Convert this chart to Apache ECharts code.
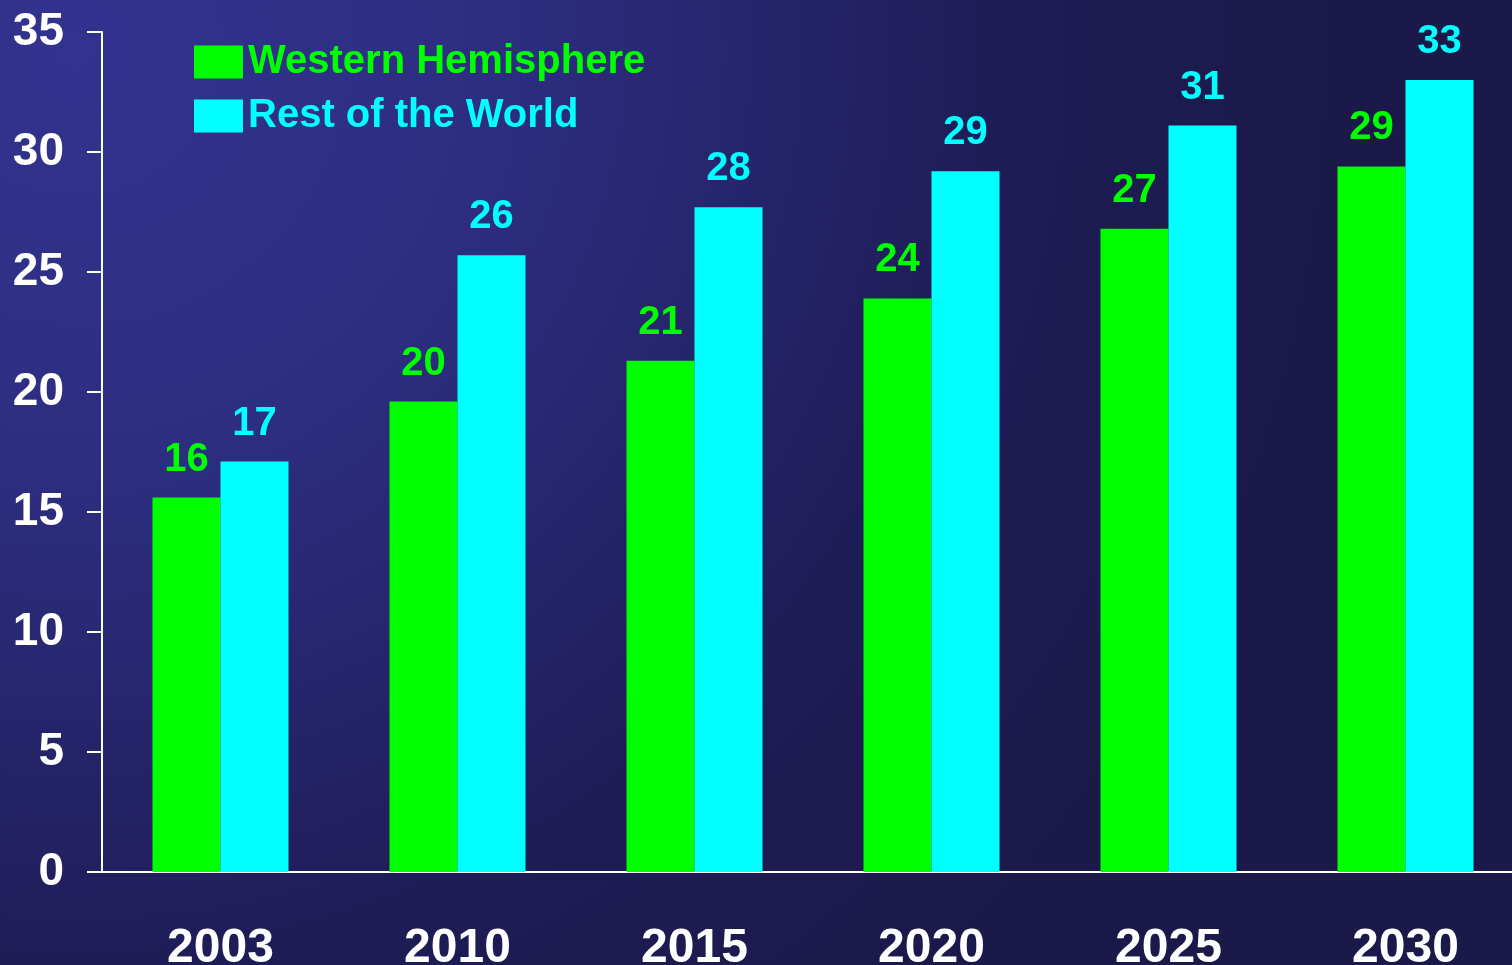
<!DOCTYPE html>
<html>
<head>
<meta charset="utf-8">
<script src="https://cdn.jsdelivr.net/npm/echarts@6/dist/echarts.min.js"></script>
<style>
  html, body { margin: 0; padding: 0; background: #1c1a4c; overflow: hidden; }
  #chart { width: 1512px; height: 965px; }
</style>
</head>
<body>
<div id="chart"></div>
<script>
const categories = ['2003', '2010', '2015', '2020', '2025', '2030'];
const westernHemisphere = [15.6, 19.6, 21.3, 23.9, 26.8, 29.4];
const restOfWorld = [17.1, 25.7, 27.7, 29.2, 31.1, 33.0];
const seriesNames = ['Western Hemisphere', 'Rest of the World'];
const seriesColors = ['#00ff00', '#00ffff'];

const FONT = '"Liberation Sans", Arial, sans-serif';

const chart = echarts.init(document.getElementById('chart'), null, { renderer: 'canvas' });

function barSeries(name, data, color) {
  return {
    name: name,
    type: 'bar',
    data: data,
    barWidth: 68,
    barGap: '0%',
    itemStyle: { color: color },
    label: {
      show: true,
      position: 'top',
      distance: 18,
      color: color,
      fontSize: 40,
      fontWeight: 'bold',
      fontFamily: FONT,
      formatter: p => Math.round(p.value)
    }
  };
}

chart.setOption({
  animation: false,
  backgroundColor: {
    type: 'radial',
    x: 0.05, y: 0.05, r: 1.3,
    colorStops: [
      { offset: 0, color: '#31338f' },
      { offset: 0.35, color: '#2d2d80' },
      { offset: 0.75, color: '#1e1c55' },
      { offset: 1, color: '#1b194a' }
    ]
  },
  grid: {
    left: 102, width: 1422, top: 32, height: 840,
    containLabel: false,
    outerBoundsMode: 'none'
  },
  legend: {
    orient: 'vertical',
    left: 189,
    top: 37,
    itemWidth: 49,
    itemHeight: 33,
    itemGap: 14,
    icon: 'rect',
    textStyle: { fontSize: 40, fontWeight: 'bold', fontFamily: FONT },
    data: [
      { name: seriesNames[0], textStyle: { color: seriesColors[0] } },
      { name: seriesNames[1], textStyle: { color: seriesColors[1] } }
    ]
  },
  xAxis: {
    type: 'category',
    data: categories,
    axisLine: { lineStyle: { color: '#ffffff', width: 2 } },
    axisTick: { show: false },
    axisLabel: {
      color: '#ffffff',
      fontSize: 48,
      fontWeight: 'bold',
      fontFamily: FONT,
      margin: 53
    }
  },
  yAxis: {
    type: 'value',
    min: 0,
    max: 35,
    interval: 5,
    splitLine: { show: false },
    axisLine: { show: true, lineStyle: { color: '#ffffff', width: 2 } },
    axisTick: { show: true, length: 15, lineStyle: { color: '#ffffff', width: 2 } },
    axisLabel: {
      color: '#ffffff',
      fontSize: 46,
      fontWeight: 'bold',
      fontFamily: FONT,
      margin: 38
    }
  },
  series: [
    barSeries(seriesNames[0], westernHemisphere, seriesColors[0]),
    barSeries(seriesNames[1], restOfWorld, seriesColors[1])
  ]
});
</script>
</body>
</html>
